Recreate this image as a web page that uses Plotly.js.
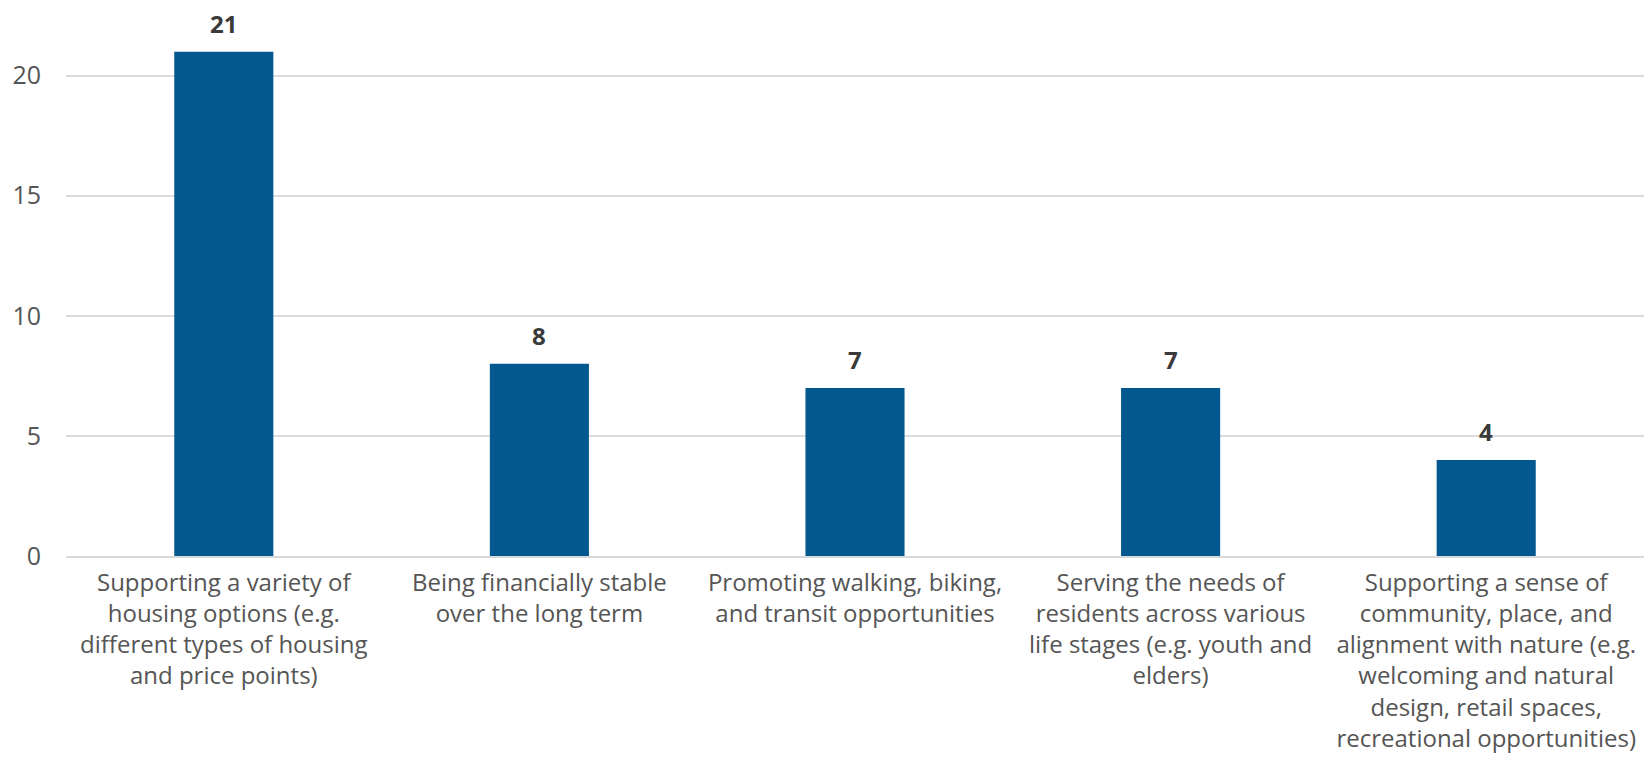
<!DOCTYPE html>
<html>
<head>
<meta charset="utf-8">
<script src="https://cdn.plot.ly/plotly-3.0.1.min.js"></script>
<style>
  html, body { margin: 0; padding: 0; background: #ffffff; }
  #chart { width: 1644px; height: 760px; }
</style>
</head>
<body>
<div id="chart"></div>
<script>
const categories = [
  "Supporting a variety of<br>housing options (e.g.<br>different types of housing<br>and price points)",
  "Being financially stable<br>over the long term",
  "Promoting walking, biking,<br>and transit opportunities",
  "Serving the needs of<br>residents across various<br>life stages (e.g. youth and<br>elders)",
  "Supporting a sense of<br>community, place, and<br>alignment with nature (e.g.<br>welcoming and natural<br>design, retail spaces,<br>recreational opportunities)"
];
const counts = [21, 8, 7, 7, 4];
const yTicks = [0, 5, 10, 15, 20];

const FONT = "Open Sans, Noto Sans, sans-serif";

const trace = {
  type: "bar",
  x: categories,
  y: counts,
  marker: { color: "#03588f" },
  hoverinfo: "none",
  cliponaxis: false
};

const annotations = categories.map((c, i) => ({
  x: c,
  y: counts[i],
  xref: "x",
  yref: "y",
  text: "<b>" + counts[i] + "</b>",
  showarrow: false,
  yanchor: "bottom",
  yshift: 10,
  font: { family: FONT, size: 24, color: "#3a3a3a" }
}));

const layout = {
  width: 1644,
  height: 760,
  margin: { l: 66, r: 0, t: 0, b: 204, pad: 0 },
  paper_bgcolor: "#ffffff",
  plot_bgcolor: "#ffffff",
  showlegend: false,
  bargap: 0.686,
  xaxis: {
    type: "category",
    showgrid: false,
    showline: true,
    linecolor: "#d9d9d9",
    linewidth: 2,
    ticks: "",
    tickangle: 0,
    ticklabelstandoff: 4,
    tickfont: { family: FONT, size: 24, color: "#555555", weight: 500 }
  },
  yaxis: {
    range: [0, 23.15],
    tickvals: yTicks,
    ticktext: yTicks.map(String),
    showgrid: true,
    gridcolor: "#dcdcdc",
    gridwidth: 2,
    zeroline: false,
    showline: false,
    ticks: "",
    ticklabelstandoff: 24,
    tickfont: { family: FONT, size: 25, color: "#555555", weight: 500 }
  },
  annotations: annotations
};

Plotly.newPlot("chart", [trace], layout, { displayModeBar: false, staticPlot: true });
</script>
</body>
</html>
